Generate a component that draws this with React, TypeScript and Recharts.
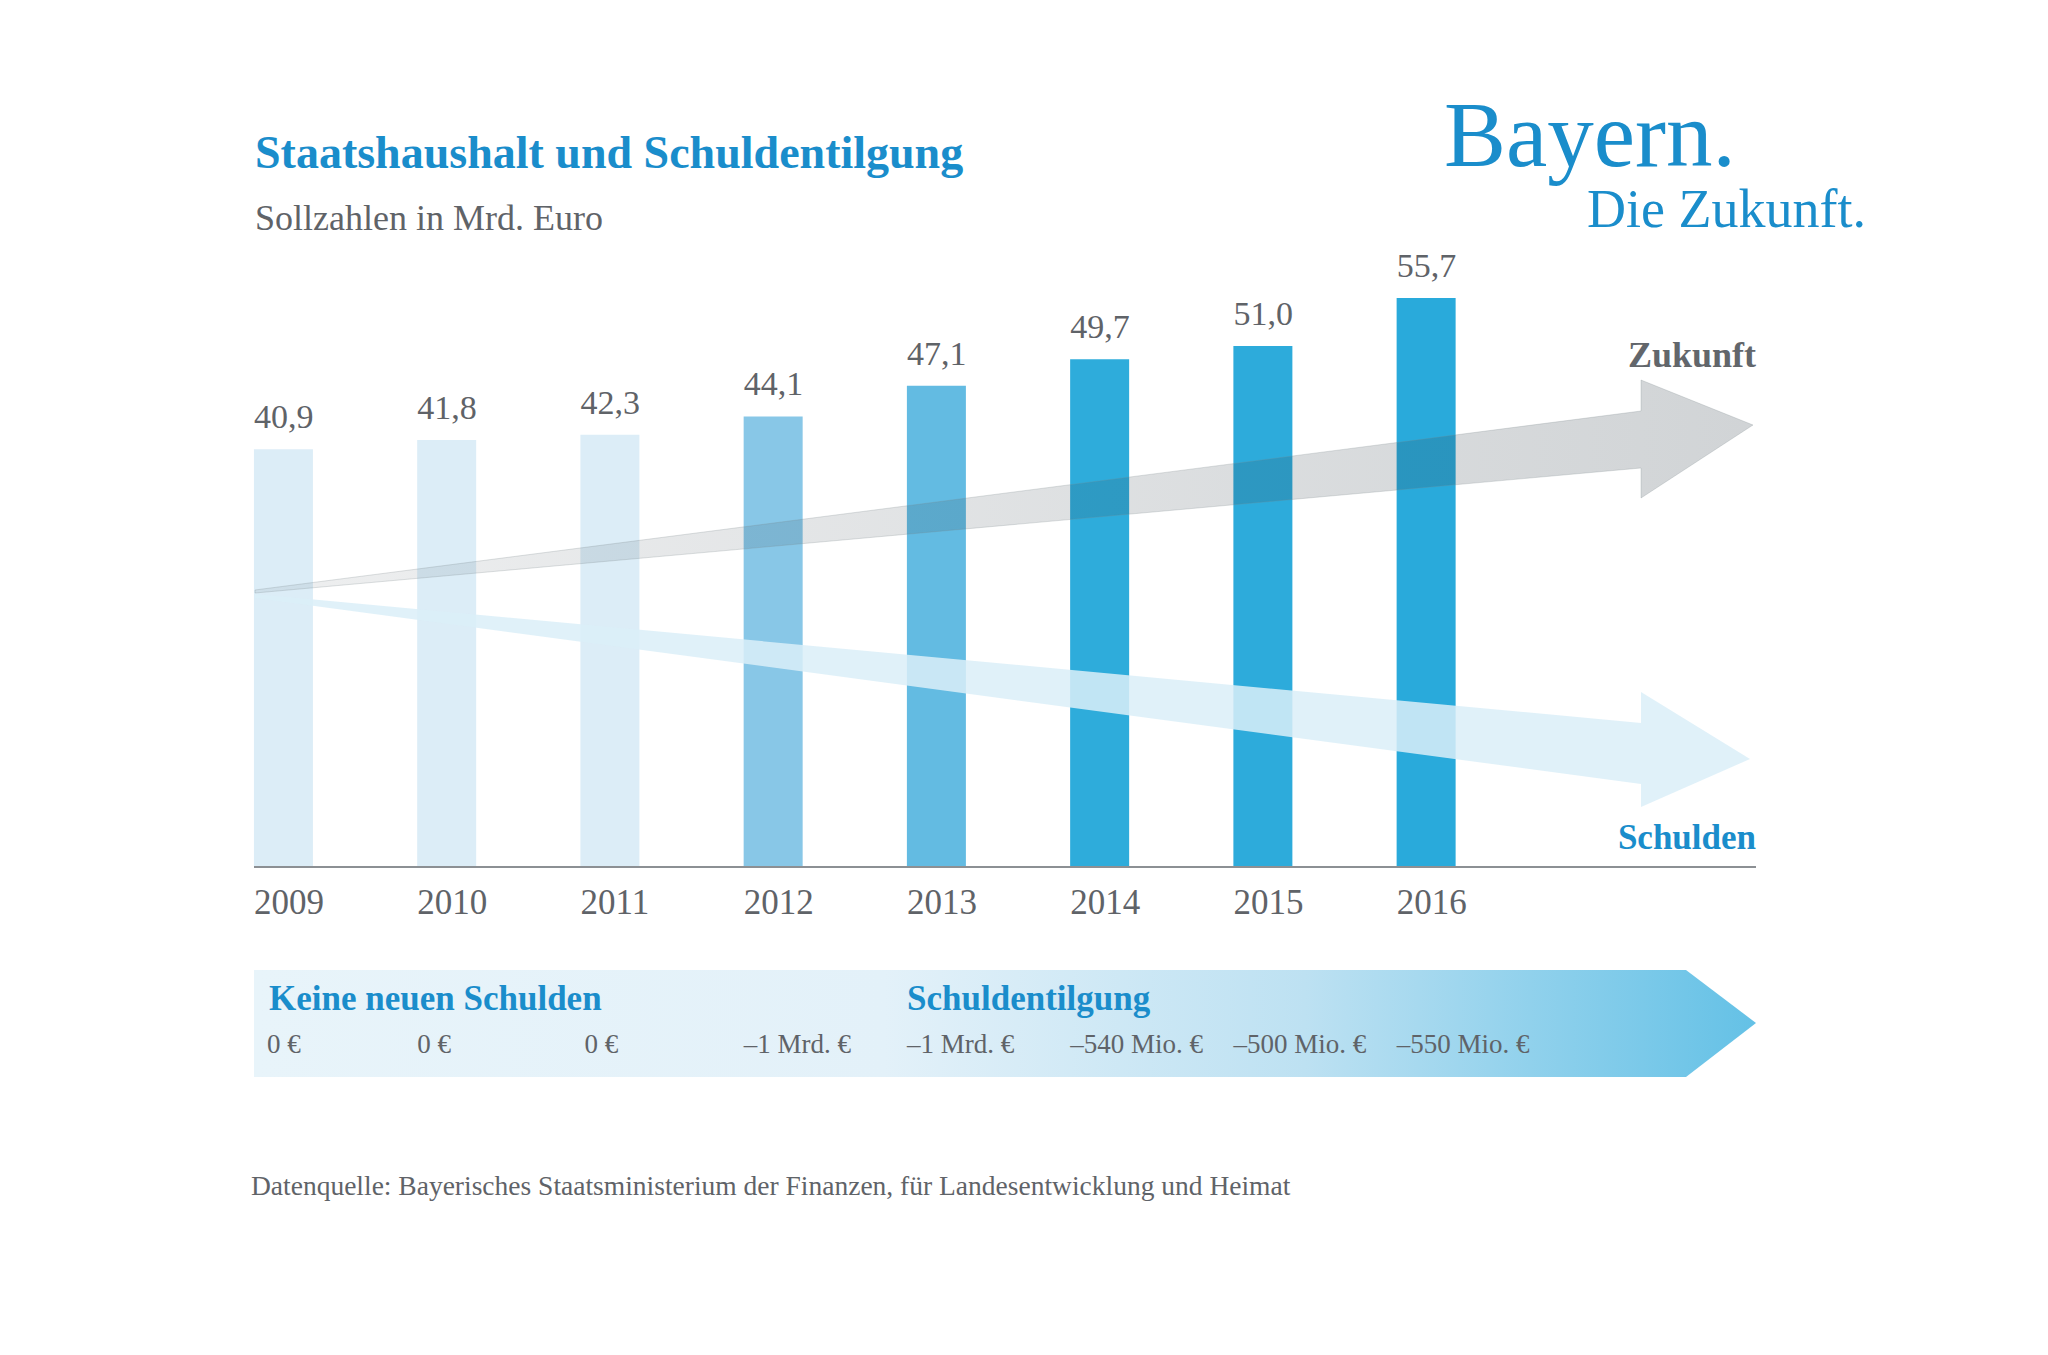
import React from 'react';
import { BarChart, Bar, XAxis, YAxis, Cell, LabelList } from 'recharts';

const years = ['2009', '2010', '2011', '2012', '2013', '2014', '2015', '2016'];
const budget = [40.9, 41.8, 42.3, 44.1, 47.1, 49.7, 51.0, 55.7];
const debtChange = ['0 €', '0 €', '0 €', '–1 Mrd. €', '–1 Mrd. €', '–540 Mio. €', '–500 Mio. €', '–550 Mio. €'];
const phaseLabels = ['Keine neuen Schulden', 'Schuldentilgung'];
const phaseStart = [0, 4];

const data = years.map((year, i) => ({ idx: i, year, value: budget[i] }));

const W = 2048;
const H = 1355;
const BAR_W = 59;
const FONT = '"Liberation Serif", "DejaVu Serif", serif';
const BLUE = '#1a8dcb';
const GREY = '#5f6368';
const BAR_COLORS = ['#dcedf7', '#dcedf7', '#dcedf7', '#88c7e7', '#63bbe2', '#2eacdb', '#2dabdb', '#29aadb'];

const fmt = (v: number) => v.toFixed(1).replace('.', ',');

const ValueLabel = (props: any) => {
  const { x, y, value } = props;
  return (
    <text x={x} y={y - 21} fontSize={34} fill={GREY} fontFamily={FONT} textAnchor="start">
      {fmt(Number(value))}
    </text>
  );
};

const YearTick = (props: any) => {
  const { x, y, payload } = props;
  const i = payload.value;
  const left = x - BAR_W / 2;
  const phase = phaseStart.indexOf(i);
  const shift = i === 0 ? 13 : i === 2 ? 4 : 0;
  return (
    <g>
      <text x={left} y={y + 47} fontSize={35} fill={GREY} fontFamily={FONT}>
        {years[i]}
      </text>
      {phase >= 0 && (
        <text x={left + (i === 0 ? 15 : 0)} y={y + 143} fontSize={35} fontWeight="bold" fill={BLUE} fontFamily={FONT}>
          {phaseLabels[phase]}
        </text>
      )}
      <text x={left + shift} y={y + 186} fontSize={27} fill={GREY} fontFamily={FONT}>
        {debtChange[i]}
      </text>
    </g>
  );
};

const Banner = () => (
  <svg width={W} height={H} style={{ position: 'absolute', left: 0, top: 0 }}>
    <defs>
      <linearGradient id="band" x1="0" y1="0" x2="1" y2="0">
        <stop offset="0" stopColor="#e8f4fa" />
        <stop offset="0.42" stopColor="#e3f1f9" />
        <stop offset="0.7" stopColor="#bde1f2" />
        <stop offset="1" stopColor="#64c1e6" />
      </linearGradient>
    </defs>
    <polygon points="254,970 1686,970 1756,1023 1686,1077 254,1077" fill="url(#band)" />
  </svg>
);

const Overlay = () => (
  <svg width={W} height={H} style={{ position: 'absolute', left: 0, top: 0, pointerEvents: 'none' }}>
    <defs>
      <linearGradient id="greyArrow" x1="0" y1="0" x2="1" y2="0">
        <stop offset="0" stopColor="#2d3b45" stopOpacity={0.08} />
        <stop offset="1" stopColor="#2d3b45" stopOpacity={0.22} />
      </linearGradient>
    </defs>
    <polygon
      points="255,590 1641,411 1641,380 1753,425 1641,498 1641,468 255,593"
      fill="url(#greyArrow)"
      stroke="#7d868c"
      strokeOpacity={0.25}
      strokeWidth={1}
    />
    <polygon
      points="255,594 1641,723 1641,692 1750,759 1641,807 1641,784 255,598"
      fill="#dbeef8"
      fillOpacity={0.85}
    />
    <text x={255} y={168} fontSize={46} fontWeight="bold" fill={BLUE} fontFamily={FONT}>
      Staatshaushalt und Schuldentilgung
    </text>
    <text x={255} y={230} fontSize={36} fill={GREY} fontFamily={FONT}>
      Sollzahlen in Mrd. Euro
    </text>
    <text x={1444} y={166} fontSize={93} fill={BLUE} fontFamily={FONT}>
      Bayern.
    </text>
    <text x={1866} y={227} fontSize={54} fill={BLUE} fontFamily={FONT} textAnchor="end">
      Die Zukunft.
    </text>
    <text x={1756} y={367} fontSize={36} fontWeight="bold" fill="#62666b" fontFamily={FONT} textAnchor="end">
      Zukunft
    </text>
    <text x={1756} y={849} fontSize={35} fontWeight="bold" fill={BLUE} fontFamily={FONT} textAnchor="end">
      Schulden
    </text>
    <text x={251} y={1195} fontSize={27.5} fill={GREY} fontFamily={FONT}>
      Datenquelle: Bayerisches Staatsministerium der Finanzen, für Landesentwicklung und Heimat
    </text>
  </svg>
);

export default function App() {
  return (
    <div style={{ position: 'absolute', left: 0, top: 0, width: W, height: H, background: '#fff' }}>
      <Banner />
      <div style={{ position: 'absolute', left: 0, top: 0 }}>
        <BarChart width={W} height={H} data={data} margin={{ top: 254, right: 292, left: 254, bottom: 288 }}>
          <XAxis
            dataKey="idx"
            type="number"
            domain={[-0.181, 9.02]}
            ticks={data.map((d) => d.idx)}
            interval={0}
            height={200}
            tickLine={false}
            tickSize={0}
            tickMargin={0}
            axisLine={{ stroke: '#8c9094', strokeWidth: 2 }}
            tick={<YearTick />}
          />
          <YAxis hide domain={[0, 60]} />
          <Bar dataKey="value" barSize={BAR_W} isAnimationActive={false}>
            {data.map((d, i) => (
              <Cell key={d.year} fill={BAR_COLORS[i]} />
            ))}
            <LabelList dataKey="value" content={<ValueLabel />} />
          </Bar>
        </BarChart>
      </div>
      <Overlay />
    </div>
  );
}
